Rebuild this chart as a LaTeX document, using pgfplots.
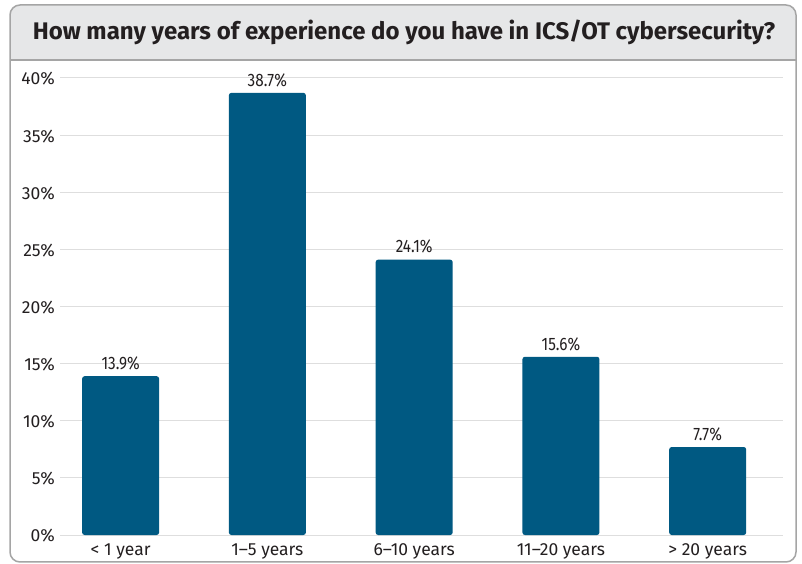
\documentclass[border=0pt]{standalone}
\usepackage{fontspec}
\setmainfont{Fira Sans}
\usepackage{pgfplots}
\pgfplotsset{compat=1.18}
\definecolor{barblue}{RGB}{0,89,130}
\definecolor{txt}{RGB}{35,31,32}
\definecolor{titlebg}{RGB}{230,231,232}
\definecolor{framec}{RGB}{165,165,165}
\definecolor{gridc}{RGB}{222,222,222}
\begin{document}
\begin{tikzpicture}
\fill[white] (0pt,0pt) rectangle (802pt,564pt);
\begin{scope}
\clip[rounded corners=10pt] (10pt,2pt) rectangle (796pt,559pt);
\fill[titlebg] (10pt,504pt) rectangle (796pt,559pt);
\end{scope}
\draw[framec, line width=1.2pt] (10pt,504pt) -- (796pt,504pt);
\draw[framec, line width=1.5pt, rounded corners=10pt] (10pt,2pt) rectangle (796pt,559pt);
\node[txt, font=\bfseries\fontsize{24}{28}\selectfont] at (404pt,532pt) {How many years of experience do you have in ICS/OT cybersecurity?};
\begin{axis}[
  at={(60pt,29pt)}, anchor=south west,
  scale only axis, width=723pt, height=457pt,
  xmin=-0.413, xmax=4.513, ymin=0, ymax=40,
  ybar, bar width=77pt,
  axis line style={draw=none},
  tick style={draw=none},
  ymajorgrids, grid style={gridc, line width=1pt},
  ytick={0,5,...,40},
  yticklabels={0\%,5\%,10\%,15\%,20\%,25\%,30\%,35\%,40\%},
  xtick={0,1,2,3,4},
  xticklabels={< 1 year,1–5 years,6–10 years,11–20 years,> 20 years},
  ticklabel style={txt, font=\fontsize{17.5}{20}\selectfont},
  yticklabel style={inner sep=0pt, xshift=-5pt, yshift=-1pt},
  xticklabel style={inner sep=0pt, yshift=-4pt},
  point meta=explicit symbolic,
  nodes near coords={\scalebox{0.85}[1]{\pgfplotspointmeta\%}},
  nodes near coords style={txt, font=\fontsize{18}{20}\selectfont, inner sep=0pt, yshift=6pt},
  clip=false,
]
\addplot[fill=barblue, draw=none, rounded corners=2.5pt] coordinates {
  (0,13.9) [13.9]
  (1,38.7) [38.7]
  (2,24.1) [24.1]
  (3,15.6) [15.6]
  (4,7.7) [7.7]
};
\end{axis}
\end{tikzpicture}
\end{document}
